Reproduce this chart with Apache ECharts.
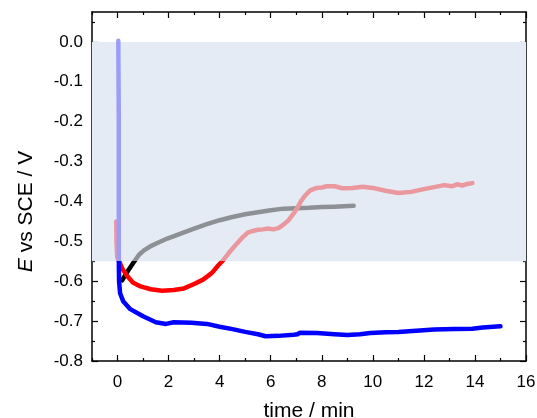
<!DOCTYPE html>
<html>
<head>
<meta charset="utf-8">
<script src="https://cdn.jsdelivr.net/npm/echarts@6/dist/echarts.min.js"></script>
<style>
  html, body { margin: 0; padding: 0; background: #fff; }
  #chart { width: 537px; height: 418px; }
</style>
</head>
<body>
<div id="chart"></div>
<script>
// tick positions
var xMajor = [0, 2, 4, 6, 8, 10, 12, 14, 16]
var xMinor = [-1, 1, 3, 5, 7, 9, 11, 13, 15]
var yMajor = [-0.8, -0.7, -0.6, -0.5, -0.4, -0.3, -0.2, -0.1, 0]
var yMinor = [-0.75, -0.65, -0.55, -0.45, -0.35, -0.25, -0.15, -0.05, 0.05]

// shaded potential window
var bandTop = 0
var bandBottom = -0.55

// black / grey curve
var blackTime = [0.18, 0.3, 0.45, 0.64, 0.85, 1.05, 1.3, 1.6, 1.95, 2.5, 3.0, 3.5, 4.0, 4.5, 5.0, 5.5, 6.0, 6.5, 7.0, 7.5, 8.0, 8.5, 9.25]
var blackPotential = [-0.598, -0.585, -0.57, -0.552, -0.533, -0.522, -0.512, -0.503, -0.493, -0.48, -0.468, -0.457, -0.447, -0.439, -0.432, -0.427, -0.422, -0.418, -0.417, -0.416, -0.414, -0.413, -0.411]

// red / pink curve
var redTime = [-0.05, -0.04, -0.01, 0.1, 0.2, 0.38, 0.6, 0.9, 1.3, 1.75, 2.2, 2.6, 3.0, 3.35, 3.7, 3.95, 4.1, 4.35, 4.6, 4.9, 5.1, 5.3, 5.5, 5.7, 5.9, 6.1, 6.3, 6.5, 6.7, 6.9, 7.05, 7.2, 7.35, 7.55, 7.8, 8.0, 8.2, 8.5, 8.8, 9.2, 9.6, 10.0, 10.5, 11.0, 11.5, 12.0, 12.4, 12.8, 13.1, 13.3, 13.5, 13.7, 13.9]
var redPotential = [-0.45, -0.5, -0.54, -0.555, -0.57, -0.587, -0.603, -0.613, -0.62, -0.624, -0.622, -0.618, -0.607, -0.596, -0.579, -0.56, -0.55, -0.53, -0.511, -0.49, -0.478, -0.474, -0.471, -0.47, -0.468, -0.47, -0.467, -0.458, -0.447, -0.43, -0.415, -0.398, -0.385, -0.372, -0.366, -0.365, -0.362, -0.362, -0.367, -0.366, -0.363, -0.366, -0.373, -0.379, -0.376, -0.369, -0.364, -0.359, -0.362, -0.357, -0.36, -0.356, -0.354]

// blue curve
var blueTime = [0.03, 0.05, 0.05, 0.05, 0.06, 0.1, 0.22, 0.5, 1.0, 1.5, 1.9, 2.2, 2.9, 3.5, 4.0, 4.5, 5.0, 5.5, 5.8, 6.3, 6.9, 7.05, 7.15, 7.8, 8.5, 9.0, 9.5, 9.9, 10.5, 11.0, 11.7, 12.4, 13.2, 13.9, 14.3, 15.0]
var bluePotential = [0.003, -0.2, -0.45, -0.55, -0.6, -0.63, -0.65, -0.67, -0.688, -0.703, -0.707, -0.703, -0.704, -0.707, -0.714, -0.72, -0.727, -0.733, -0.738, -0.737, -0.734, -0.733, -0.729, -0.73, -0.733, -0.735, -0.733, -0.73, -0.728, -0.727, -0.724, -0.721, -0.72, -0.719, -0.716, -0.713]

var font = 'Liberation Sans, Arial, sans-serif'

function pairs(t, e){
  return t.map(function(v, i){ return [v, e[i]] })
}

function xAx(pos, ticks, len, main){
  return {
    type: 'value', position: pos, min: -1, max: 16,
    axisLine: { show: main, onZero: false, lineStyle: { color: '#000', width: 1.5 } },
    axisTick: { inside: true, length: len, customValues: ticks, lineStyle: { color: '#000', width: 1.2 } },
    axisLabel: { show: main && pos === 'bottom', customValues: ticks, margin: 13, fontSize: 17, color: '#000', fontFamily: font },
    splitLine: { show: false },
    name: main && pos === 'bottom' ? 'time / min' : '',
    nameLocation: 'middle', nameGap: 40,
    nameTextStyle: { fontSize: 21, color: '#000', fontFamily: font }
  }
}

function yAx(pos, ticks, len, main){
  var left = main && pos === 'left'
  return {
    type: 'value', position: pos, min: -0.8, max: 0.075,
    axisLine: { show: main, onZero: false, lineStyle: { color: '#000', width: 1.5 } },
    axisTick: { inside: true, length: len, customValues: ticks, lineStyle: { color: '#000', width: 1.2 } },
    axisLabel: {
      show: left, customValues: ticks, margin: 9, fontSize: 17, color: '#000', fontFamily: font,
      formatter: function(v){ return v.toFixed(1) }
    },
    splitLine: { show: false },
    name: left ? '{i|E} vs SCE / V' : '',
    nameLocation: 'middle', nameGap: 55,
    nameTextStyle: {
      fontSize: 21, color: '#000', fontFamily: font,
      padding: [0, 50, 0, 0],  // pushes the title down a bit, as in the original
      rich: { i: { fontStyle: 'italic', fontSize: 21, fontFamily: font, color: '#000' } }
    }
  }
}

// colour inside the shaded window (light) and below it (dark)
function piece(idx, light, dark){
  return {
    type: 'piecewise', show: false, seriesIndex: idx, dimension: 1,
    pieces: [
      { gt: bandBottom, lte: 1, color: light },
      { gte: -1, lte: bandBottom, color: dark }
    ]
  }
}

function line(data){
  return {
    type: 'line', data: data, showSymbol: false, silent: true,
    xAxisIndex: 0, yAxisIndex: 0,
    lineStyle: { width: 4.5, cap: 'round', join: 'round' }
  }
}

var chart = echarts.init(document.getElementById('chart'))

var blackSeries = line(pairs(blackTime, blackPotential))
blackSeries.markArea = {
  silent: true,
  itemStyle: { color: '#e5ebf4' },
  data: [[{ yAxis: bandTop }, { yAxis: bandBottom }]]
}

const option = {
  animation: false,
  grid: { left: 92, right: 11, top: 12, bottom: 57, outerBoundsMode: 'none' },
  xAxis: [
    xAx('bottom', xMajor, 6, true),
    xAx('bottom', xMinor, 3, false),
    xAx('top', xMajor, 6, true),
    xAx('top', xMinor, 3, false)
  ],
  yAxis: [
    yAx('left', yMajor, 6, true),
    yAx('left', yMinor, 3, false),
    yAx('right', yMajor, 6, true),
    yAx('right', yMinor, 3, false)
  ],
  visualMap: [
    piece(0, '#8d9196', '#000000'),
    piece(1, '#ea979e', '#ff0000'),
    piece(2, '#9d9df7', '#0000ff')
  ],
  series: [
    blackSeries,
    line(pairs(redTime, redPotential)),
    line(pairs(blueTime, bluePotential))
  ]
}
chart.setOption(option)
</script>
</body>
</html>
